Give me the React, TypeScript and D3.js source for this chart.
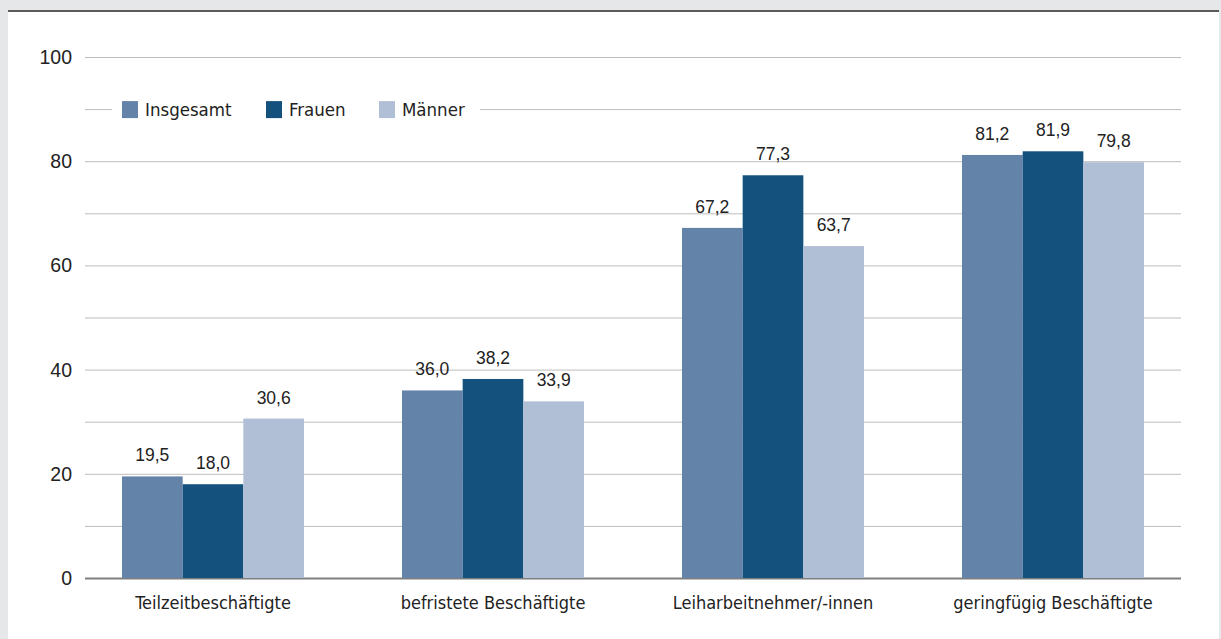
import * as d3 from "d3";
import React from "react";

const categories = [
  "Teilzeitbeschäftigte",
  "befristete Beschäftigte",
  "Leiharbeitnehmer/-innen",
  "geringfügig Beschäftigte",
];
const seriesNames = ["Insgesamt", "Frauen", "Männer"];
const insgesamt = [19.5, 36.0, 67.2, 81.2];
const frauen = [18.0, 38.2, 77.3, 81.9];
const maenner = [30.6, 33.9, 63.7, 79.8];
const colors = ["#6383a9", "#14517c", "#b0bfd6"];
const yTicks = [0, 20, 40, 60, 80, 100];

const W = 1221;
const H = 639;
const plot = { left: 85, right: 1181, top: 57, bottom: 578 };

const App: React.FC = () => {
  const values = [insgesamt, frauen, maenner];
  const y = d3.scaleLinear().domain([0, 100]).range([plot.bottom, plot.top]);
  const x0 = d3
    .scaleBand<string>()
    .domain(categories)
    .range([73, 1193])
    .paddingInner(0.35)
    .paddingOuter(0.175);
  const x1 = d3
    .scaleBand<string>()
    .domain(seriesNames)
    .range([0, x0.bandwidth()]);
  const gridTicks = d3.range(0, 101, 10);
  const fmt = (v: number) => v.toFixed(1).replace(".", ",");
  const narrow = "'Liberation Sans Narrow', 'DejaVu Sans Condensed', sans-serif";
  const sans = "'Liberation Sans', Arial, sans-serif";

  // legend placement
  const legendY = y(90);
  const legendItems = [
    { x: 122, w: 16 },
    { x: 266, w: 16 },
    { x: 379, w: 16 },
  ];

  return (
    <div style={{ position: "absolute", left: 0, top: 0 }}>
      <svg width={W} height={H} style={{ display: "block" }}>
        <rect width={W} height={H} fill="#e6e7e9" />
        <rect x={8} y={10} width={1211} height={H - 10} fill="#fff" />
        <line x1={8} x2={1219} y1={11} y2={11} stroke="#5b5b5b" strokeWidth={2} />

        {gridTicks.map((t) => (
          <line
            key={t}
            x1={plot.left}
            x2={plot.right}
            y1={y(t) + 0.5}
            y2={y(t) + 0.5}
            stroke={t === 0 ? "#7f7f7f" : "#bdbdbd"}
            strokeWidth={t === 0 ? 2 : 1}
          />
        ))}
        {yTicks.map((t) => (
          <text
            key={t}
            x={72}
            y={y(t)}
            dy="0.36em"
            textAnchor="end"
            fontFamily={sans}
            fontSize={19.5}
            fill="#222"
          >
            {t}
          </text>
        ))}

        {/* legend */}
        <rect x={112} y={legendY - 10} width={368} height={20} fill="#fff" />
        {seriesNames.map((s, i) => (
          <g key={s}>
            <rect
              x={legendItems[i].x}
              y={legendY - 8}
              width={legendItems[i].w}
              height={17}
              fill={colors[i]}
            />
            <text
              x={legendItems[i].x + 23}
              y={legendY}
              dy="0.36em"
              fontFamily={narrow}
              fontSize={18.5}
              fill="#222"
            >
              {s}
            </text>
          </g>
        ))}

        {categories.map((c, ci) => (
          <g key={c} transform={`translate(${x0(c)},0)`}>
            {seriesNames.map((s, si) => {
              const v = values[si][ci];
              return (
                <g key={s}>
                  <rect
                    x={x1(s)}
                    y={y(v)}
                    width={x1.bandwidth()}
                    height={plot.bottom - y(v)}
                    fill={colors[si]}
                  />
                  <text
                    x={(x1(s) ?? 0) + x1.bandwidth() / 2}
                    y={y(v) - 15}
                    textAnchor="middle"
                    fontFamily={sans}
                    fontSize={17.5}
                    fill="#222"
                  >
                    {fmt(v)}
                  </text>
                </g>
              );
            })}
            <text
              x={x0.bandwidth() / 2}
              y={plot.bottom + 31}
              textAnchor="middle"
              fontFamily={narrow}
              fontSize={18}
              fill="#222"
            >
              {c}
            </text>
          </g>
        ))}
      </svg>
    </div>
  );
};

export default App;
